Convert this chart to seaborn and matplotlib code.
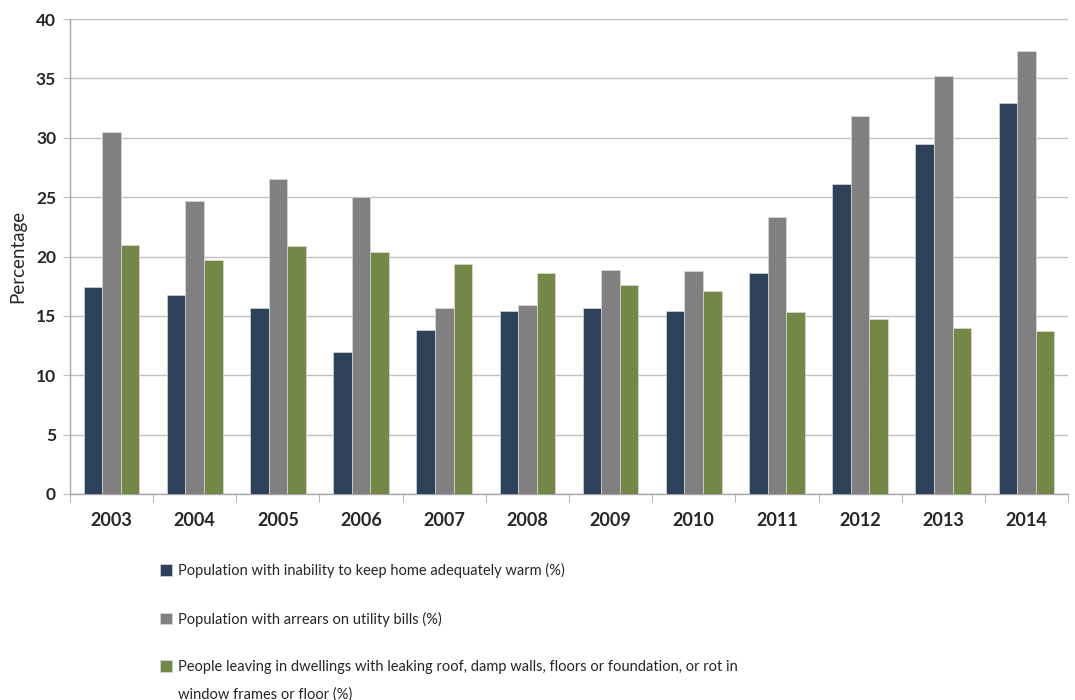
import numpy as np
import pandas as pd
import matplotlib.pyplot as plt
import seaborn as sns

# values
years = ['2003', '2004', '2005', '2006', '2007', '2008', '2009', '2010', '2011', '2012', '2013', '2014']
warm = [17.4, 16.8, 15.7, 12.0, 13.8, 15.4, 15.7, 15.4, 18.6, 26.1, 29.5, 32.9]
arrears = [30.5, 24.7, 26.5, 25.0, 15.7, 15.9, 18.9, 18.8, 23.3, 31.8, 35.2, 37.3]
dwellings = [21.0, 19.7, 20.9, 20.4, 19.4, 18.6, 17.6, 17.1, 15.3, 14.7, 14.0, 13.7]
series_names = ['Population with inability to keep home adequately warm (%)',
                'Population with arrears on utility bills (%)',
                'People leaving in dwellings with leaking roof, damp walls, floors or foundation, or rot in']
# the last legend label runs on to a second line
label_rest = 'window frames or floor (%)'
colours = ['#264061', '#808080', '#77933C']

# long format table for seaborn
df = pd.DataFrame({
    'year': years * 3,
    'value': warm + arrears + dwellings,
    'series': [series_names[0]] * 12 + [series_names[1]] * 12 + [series_names[2]] * 12,
})

sns.set_style('white')
plt.rcParams['font.family'] = ['Lato', 'DejaVu Sans']

fig = plt.figure(figsize=(10.75, 7), dpi=100)
ax = fig.add_axes([70 / 1075, 1 - 494 / 700, (1068 - 70) / 1075, (494 - 19) / 700])

sns.barplot(data=df, x='year', y='value', hue='series', palette=colours,
            width=0.67, gap=0, edgecolor='#d9d9d9', linewidth=0.5, ax=ax, zorder=3)

ax.set_ylim(0, 40)
ax.set_xlim(-0.5, 11.5)
ax.set_yticks(np.arange(0, 41, 5))
ax.yaxis.grid(True, color='#bfbfbf', linewidth=1, zorder=0)
ax.set_axisbelow(True)

for s in ['top', 'right']:
    ax.spines[s].set_visible(False)
for s in ['left', 'bottom']:
    ax.spines[s].set_color('#a6a6a6')
    ax.spines[s].set_linewidth(1)

# tick marks between the categories on x
ax.set_xticks(np.arange(-0.5, 12, 1), minor=True)
ax.tick_params(axis='x', which='major', length=0, pad=13, labelsize=13)
ax.tick_params(axis='x', which='minor', length=6, color='#a6a6a6', direction='out', bottom=True)
ax.tick_params(axis='y', length=5, color='#bfbfbf', direction='out', left=True, pad=5, labelsize=12.5)
for lab in ax.get_xticklabels() + ax.get_yticklabels():
    lab.set_fontweight('bold')

ax.set_xlabel('')
ax.set_ylabel('Percentage', fontsize=13.5)
ax.yaxis.set_label_coords((18 - 70) / 998, 0.5)
ax.yaxis.label.set_verticalalignment('center')

handles, labels = ax.get_legend_handles_labels()
leg = ax.legend(handles, labels, loc='upper left', bbox_to_anchor=(160 / 1075, 1 - 563 / 700),
                bbox_transform=fig.transFigure, frameon=False, fontsize=10.5,
                borderpad=0, borderaxespad=0,
                handlelength=0.85, handleheight=0.85, handletextpad=0.35, labelspacing=2.3)

# second line of the last legend label, under its first line
fig.canvas.draw()
bb = leg.get_texts()[2].get_window_extent()
fig.text(bb.x0 / 1075, (bb.y0 + bb.y1) / 2 / 700 - 27 / 700, label_rest,
         fontsize=10.5, va='center', ha='left')

fig.savefig('out.png', dpi=100, facecolor='white')
